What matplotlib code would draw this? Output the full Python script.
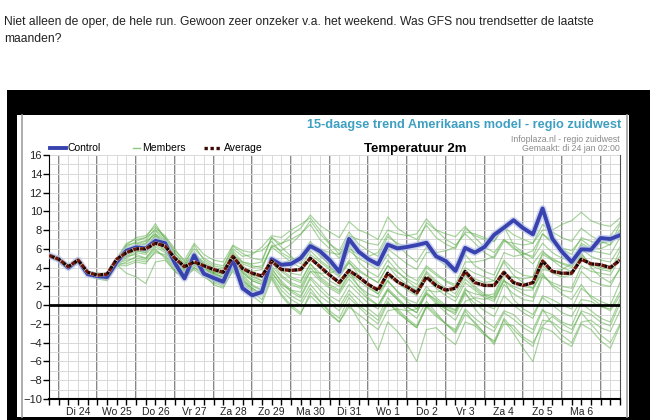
import numpy as np
import matplotlib
matplotlib.use("Agg")
import matplotlib.pyplot as plt
from matplotlib.patches import Rectangle
from matplotlib.lines import Line2D

# === DONNEES (pas de 6 h, 60 pas) ===
steps = np.arange(60) * 0.25          # jours depuis le debut de l'axe
day_lines = np.arange(15) + 0.25      # 00h de chaque jour
day_labels = ["Di 24", "Wo 25", "Do 26", "Vr 27", "Za 28", "Zo 29", "Ma 30",
              "Di 31", "Wo 1", "Do 2", "Vr 3", "Za 4", "Zo 5", "Ma 6"]

control = [5.3, 4.9, 4.0, 4.8, 3.3, 3.1, 3.0, 4.6, 5.8, 6.15, 6.05, 6.85,
           6.6, 4.5, 2.85, 5.3, 3.35, 2.9, 2.5, 4.85, 1.8, 1.05, 1.4, 4.9,
           4.3, 4.4, 5.0, 6.3, 5.75, 4.8, 3.55, 7.05, 5.7, 4.9, 4.35, 6.45,
           6.05, 6.2, 6.4, 6.65, 5.2, 4.7, 3.65, 6.1, 5.6, 6.2, 7.5, 8.25,
           9.05, 8.2, 7.55, 10.3, 7.1, 5.7, 4.6, 5.95, 5.9, 7.15, 7.05, 7.45]

average = [5.3, 4.9, 4.1, 4.8, 3.5, 3.2, 3.3, 4.9, 5.6, 6.0, 6.0, 6.6,
           6.3, 5.0, 4.1, 4.6, 4.2, 3.8, 3.5, 5.2, 3.9, 3.4, 3.1, 4.7,
           3.8, 3.7, 3.8, 5.0, 4.1, 3.2, 2.4, 3.7, 3.0, 2.2, 1.6, 3.4,
           2.5, 1.95, 1.3, 3.0, 2.1, 1.6, 1.8, 3.6, 2.4, 2.1, 2.1, 3.5,
           2.4, 2.1, 2.4, 4.7, 3.6, 3.4, 3.4, 4.9, 4.4, 4.3, 4.0, 4.8]

members = [
    [5.4, 5.0, 4.2, 4.9, 3.5, 3.2, 3.1, 4.8, 6.2, 6.8, 7.2, 8.7, 7.0, 5.5, 4.3, 6.4,
     4.8, 4.2, 4.0, 6.3, 5.5, 5.0, 4.8, 7.2, 6.5, 7.5, 8.2, 9.6, 8.5, 7.8, 7.2, 8.9,
     8.0, 7.6, 7.0, 9.4, 8.2, 7.5, 7.0, 8.5, 7.2, 6.5, 6.0, 8.2, 7.4, 7.0, 6.8, 8.3,
     7.5, 7.0, 6.6, 8.0, 8.0, 8.6, 9.0, 9.9, 9.0, 8.6, 8.4, 9.3],
    [5.2, 4.8, 3.9, 4.7, 3.4, 3.0, 2.9, 4.5, 5.5, 6.3, 6.5, 7.9, 6.9, 5.2, 4.0, 5.7,
     4.2, 3.5, 3.3, 5.6, 4.0, 3.6, 3.8, 6.4, 5.8, 6.5, 7.5, 9.0, 7.6, 6.5, 5.8, 7.8,
     6.5, 5.8, 5.2, 7.3, 6.6, 6.2, 6.5, 8.8, 8.0, 7.6, 7.3, 8.4, 7.2, 6.2, 5.6, 7.0,
     6.0, 5.5, 5.2, 7.6, 6.8, 6.1, 5.8, 7.0, 6.2, 6.0, 6.5, 8.6],
    [5.3, 4.9, 4.1, 4.9, 3.6, 3.3, 3.2, 4.7, 5.8, 6.0, 5.9, 7.0, 6.3, 4.8, 3.9, 4.6,
     4.0, 3.6, 3.4, 5.2, 4.2, 3.5, 3.0, 5.0, 4.0, 3.4, 3.2, 5.4, 4.6, 3.8, 3.0, 4.5,
     3.6, 3.0, 2.4, 4.2, 3.5, 2.8, 2.2, 4.0, 3.2, 2.5, 2.0, 3.6, 2.8, 2.4, 2.6, 4.8,
     3.8, 3.2, 3.0, 5.4, 4.8, 4.5, 4.2, 6.0, 5.2, 4.8, 4.6, 6.2],
    [5.4, 4.9, 4.0, 4.8, 3.3, 3.0, 2.8, 4.4, 5.0, 5.6, 5.4, 6.6, 6.0, 4.6, 3.6, 4.4,
     3.8, 3.2, 2.9, 4.6, 3.5, 2.6, 2.2, 4.6, 3.2, 2.4, 2.0, 4.0, 2.8, 2.0, 1.4, 3.2,
     2.0, 1.2, 0.8, 2.6, 1.5, 0.6, 0.2, 2.0, 0.8, 0.0, -0.5, 1.8, 0.6, 0.0, -0.4, 2.2,
     1.2, 0.6, 0.4, 3.0, 2.4, 2.0, 1.8, 4.2, 3.6, 3.4, 3.2, 5.0],
    [5.2, 4.8, 3.8, 4.6, 3.2, 2.9, 2.7, 4.2, 4.6, 5.2, 5.0, 6.4, 5.8, 4.2, 3.2, 4.0,
     3.4, 2.8, 2.4, 4.0, 2.8, 1.8, 1.2, 3.6, 2.0, 1.0, 0.4, 2.2, 1.0, 0.2, -0.6, 1.2,
     0.0, -0.8, -1.6, 0.4, -0.8, -1.6, -2.4, -0.2, -1.2, -2.0, -2.6, -0.4, -1.4, -2.2, -2.8, -0.8,
     -1.5, -2.4, -3.0, -0.6, -1.0, -1.8, -2.2, 0.2, -0.6, -1.4, -1.8, 0.6],
    [5.3, 4.8, 3.9, 4.8, 3.4, 3.1, 2.9, 4.4, 4.4, 4.8, 4.6, 5.6, 5.4, 4.0, 3.0, 3.8,
     3.0, 2.4, 2.0, 3.6, 2.4, 1.4, 0.6, 3.0, 1.2, 0.0, -0.8, 1.0, 0.0, -1.0, -1.8, 0.2,
     -1.6, -3.0, -4.8, -1.8, -2.8, -4.2, -6.0, -2.6, -2.4, -3.4, -4.2, -1.8, -2.2, -3.2, -3.8, -1.6,
     -3.0, -4.6, -6.0, -2.4, -2.8, -3.8, -4.4, -2.0, -2.6, -3.8, -4.6, -2.2],
    [5.1, 4.7, 3.8, 4.6, 3.2, 2.8, 2.6, 4.2, 4.2, 4.6, 4.4, 5.8, 5.2, 3.8, 3.0, 4.2,
     3.6, 2.6, 2.2, 4.2, 3.0, 2.0, 1.6, 4.0, 2.4, 1.4, 0.8, 2.8, 1.6, 0.6, -0.2, 1.6,
     0.6, -0.4, -1.2, 0.8, -0.4, -1.4, -2.2, 0.0, -1.0, -2.0, -2.8, -0.6, -2.0, -3.0, -4.2, -1.4,
     -2.6, -3.6, -4.4, -1.6, -1.8, -2.6, -3.0, -0.6, -1.0, -1.8, -2.2, 0.2],
    [5.4, 5.0, 4.2, 5.0, 3.6, 3.4, 3.4, 5.0, 6.6, 7.0, 7.2, 8.0, 7.2, 5.6, 4.4, 5.4,
     4.6, 4.0, 3.8, 5.8, 4.6, 4.4, 4.6, 7.2, 6.2, 5.2, 4.4, 6.4, 5.2, 4.4, 3.8, 6.0,
     5.4, 5.2, 5.6, 7.6, 6.4, 5.4, 4.6, 6.2, 5.0, 4.2, 3.6, 5.4, 4.2, 3.6, 3.2, 5.6,
     5.2, 5.4, 5.8, 7.6, 6.6, 6.0, 5.4, 7.2, 6.8, 6.6, 6.8, 8.0],
    [5.3, 4.9, 4.0, 4.7, 3.3, 3.1, 3.0, 4.6, 5.2, 5.4, 5.0, 6.2, 5.6, 4.4, 3.4, 4.8,
     4.0, 3.2, 2.8, 4.4, 3.2, 2.2, 1.6, 3.8, 2.6, 1.6, 1.0, 3.0, 2.0, 1.0, 0.4, 2.2,
     1.2, 0.2, -0.4, 1.6, 0.6, -0.2, -0.8, 1.4, 0.4, -0.4, -1.0, 1.2, 0.2, -0.6, -1.2, 1.0,
     0.0, -0.8, -1.4, 1.0, 0.6, 0.0, -0.4, 1.8, 1.0, 0.4, 0.0, 2.4],
    [5.2, 4.8, 3.9, 4.8, 3.2, 2.9, 2.8, 4.4, 4.8, 5.0, 4.8, 6.0, 5.0, 3.6, 2.8, 4.0,
     3.2, 2.2, 1.8, 3.8, 2.2, 1.0, 0.2, 2.8, 1.0, -0.2, -1.0, 1.4, 0.4, -0.6, -1.4, 0.8,
     -0.2, -1.2, -2.0, 0.2, -0.6, -1.6, -2.4, -0.2, 0.2, -0.4, -0.8, 1.6, 1.2, 1.0, 1.2, 3.4,
     2.6, 2.0, 1.8, 4.2, 3.4, 3.0, 3.2, 5.2, 4.2, 3.8, 3.6, 5.8],
    [5.3, 4.9, 4.1, 4.9, 3.4, 3.2, 3.1, 4.8, 6.0, 6.4, 6.6, 7.6, 6.8, 5.2, 4.2, 5.6,
     4.4, 3.8, 3.6, 5.4, 4.4, 4.0, 4.2, 6.2, 6.6, 7.0, 7.6, 8.6, 7.0, 6.0, 5.0, 6.6,
     5.6, 4.8, 4.2, 6.0, 5.2, 4.4, 3.8, 5.6, 5.6, 5.8, 6.2, 7.8, 7.6, 7.2, 6.8, 8.4,
     6.4, 5.6, 5.0, 6.6, 5.6, 5.0, 4.8, 6.4, 5.8, 5.6, 5.4, 7.2],
    [5.4, 5.0, 4.1, 4.8, 3.5, 3.3, 3.1, 4.6, 5.4, 5.8, 5.6, 6.8, 6.2, 4.6, 3.6, 5.0,
     4.0, 3.4, 3.0, 5.0, 3.8, 3.0, 2.6, 4.6, 3.6, 2.8, 2.4, 4.4, 3.0, 2.2, 1.6, 3.4,
     2.6, 1.8, 1.2, 3.0, 2.4, 1.6, 1.0, 2.8, 1.8, 1.0, 0.4, 2.4, 1.6, 0.8, 0.4, 2.6,
     1.8, 1.2, 0.8, 3.2, 2.2, 1.6, 1.4, 3.6, 2.6, 2.2, 2.0, 4.0],
    [5.2, 4.8, 4.0, 4.7, 3.3, 3.0, 2.8, 4.3, 3.4, 3.0, 2.3, 4.6, 4.8, 3.6, 2.8, 4.4,
     3.4, 2.6, 2.2, 4.0, 2.6, 1.6, 1.2, 3.4, 2.2, 1.6, 1.4, 3.6, 3.4, 3.4, 3.8, 5.8,
     5.0, 4.4, 3.8, 5.4, 4.2, 3.2, 2.6, 4.2, 3.4, 2.6, 2.2, 4.6, 4.6, 4.8, 5.2, 7.0,
     6.2, 5.2, 4.4, 5.8, 4.8, 4.0, 3.6, 5.4, 4.4, 4.0, 3.8, 5.2],
    [5.4, 5.0, 4.2, 5.0, 3.6, 3.4, 3.3, 4.9, 6.4, 6.6, 6.9, 8.2, 7.4, 6.0, 4.6, 6.0,
     5.0, 4.4, 4.2, 6.0, 5.2, 5.4, 6.2, 7.4, 7.2, 8.0, 8.6, 9.3, 8.0, 6.6, 5.4, 6.4,
     4.6, 3.6, 3.0, 4.8, 3.6, 2.6, 1.8, 3.4, 2.4, 1.4, 0.8, 2.8, 1.8, 1.0, 0.6, 2.6,
     2.0, 1.6, 1.6, 3.8, 3.6, 3.8, 4.4, 6.6, 6.0, 6.6, 7.4, 8.8],
    [5.3, 4.9, 4.0, 4.8, 3.4, 3.1, 2.9, 4.5, 5.6, 5.8, 5.8, 7.2, 6.2, 4.8, 3.8, 5.0,
     4.2, 3.6, 3.2, 5.2, 4.0, 3.2, 2.6, 4.6, 3.8, 3.0, 2.6, 4.4, 3.4, 2.6, 2.0, 3.6,
     2.0, 0.8, 0.0, 1.6, 0.6, -0.6, -1.4, 0.4, -0.8, -2.0, -3.0, -1.0, -1.8, -3.0, -4.0, -2.0,
     -2.2, -3.4, -4.0, -2.2, -1.2, -2.0, -2.6, -0.8, -2.0, -3.2, -4.0, -2.0],
    [5.2, 4.8, 4.0, 4.9, 3.5, 3.2, 3.0, 4.6, 6.0, 6.2, 6.2, 7.4, 6.6, 5.0, 3.8, 5.2,
     4.4, 3.8, 3.4, 5.4, 4.6, 4.2, 4.0, 6.2, 5.4, 4.6, 4.0, 5.8, 4.8, 4.0, 3.2, 4.8,
     3.8, 3.0, 2.4, 4.2, 3.0, 2.2, 1.6, 3.6, 2.6, 1.8, 1.2, 3.2, 2.0, 1.2, 0.8, 2.8,
     0.6, -0.4, -1.0, 0.8, 0.0, -0.8, -1.2, 0.6, 0.4, -0.2, -0.4, 1.4],
    [5.3, 4.8, 4.0, 4.9, 3.4, 3.2, 3.0, 4.7, 5.7, 6.5, 6.8, 7.6, 6.5, 5.0, 4.0, 5.4,
     4.2, 3.4, 3.0, 4.8, 3.6, 2.8, 2.4, 4.4, 4.4, 4.8, 5.2, 6.8, 5.4, 4.2, 3.2, 4.6,
     3.2, 2.0, 1.2, 2.6, 1.4, 0.4, -0.4, 1.2, 0.2, -0.8, -1.6, 0.4, 0.8, 0.6, 1.0, 3.2,
     3.0, 2.8, 3.0, 5.6, 5.0, 4.4, 4.0, 5.6, 4.0, 3.0, 2.4, 3.8],
    [5.2, 4.9, 4.0, 4.8, 3.3, 3.0, 2.9, 4.5, 5.2, 5.8, 5.6, 6.8, 5.8, 4.4, 3.4, 4.6,
     3.6, 3.0, 2.6, 4.4, 2.6, 1.8, 1.2, 3.2, 1.6, 0.6, 0.0, 1.8, 0.4, -0.8, -1.8, -0.2,
     -1.0, -1.8, -2.6, -0.6, -0.4, -0.6, -0.4, 1.6, 1.4, 1.6, 2.0, 4.0, 3.4, 3.0, 2.6, 4.6,
     3.2, 2.4, 1.8, 3.4, 2.0, 1.2, 0.6, 2.2, 0.8, 0.0, -0.6, 1.0],
    [5.4, 5.0, 4.1, 4.9, 3.5, 3.3, 3.2, 4.8, 6.4, 7.2, 7.4, 8.4, 7.2, 5.8, 4.8, 6.6,
     5.4, 4.8, 4.6, 6.4, 5.8, 5.6, 5.8, 6.8, 5.6, 5.0, 4.8, 6.6, 6.0, 5.6, 5.4, 7.4,
     7.0, 6.6, 6.4, 8.0, 7.6, 7.4, 7.6, 9.2, 8.0, 7.0, 6.4, 7.6, 6.6, 5.6, 5.0, 6.8,
     6.6, 6.4, 6.6, 8.6, 7.8, 7.2, 6.8, 8.2, 7.4, 6.8, 6.4, 7.8],
    [5.3, 4.9, 4.0, 4.8, 3.4, 3.1, 3.0, 4.6, 5.4, 6.0, 6.2, 7.4, 6.4, 4.9, 3.8, 4.8,
     3.9, 3.3, 3.0, 4.8, 3.4, 2.6, 2.2, 4.2, 3.0, 2.2, 1.8, 3.6, 2.6, 1.8, 1.2, 2.8,
     1.6, 0.6, 0.0, 1.8, 0.8, -0.2, -0.8, 1.2, 0.6, -0.2, -0.6, 1.4, -0.4, -1.6, -2.4, -0.6,
     -1.0, -2.0, -2.6, -0.4, -2.0, -3.2, -4.0, -1.8, -1.6, -2.4, -2.8, -0.6],
]

W, H = 650, 420
fig = plt.figure(figsize=(W / 100, H / 100), dpi=100)
fig.patch.set_facecolor("white")

def fx(px):
    return px / W

def fy(py):
    return 1 - py / H

# === TEXTE DU FORUM ===
forum_font = ["Liberation Sans", "DejaVu Sans"]
fig.text(fx(4), fy(22), "Niet alleen de oper, de hele run. Gewoon zeer onzeker v.a. het weekend. "
         "Was GFS nou trendsetter de laatste", fontsize=8.7, family=forum_font,
         color="#222222", va="center", ha="left")
fig.text(fx(4), fy(39), "maanden?", fontsize=8.7, family=forum_font,
         color="#222222", va="center", ha="left")

# === CADRE NOIR + PANNEAU BLANC ===
fig.patches.append(Rectangle((fx(7), 0), fx(W - 7), 1 - 90 / H, transform=fig.transFigure,
                             facecolor="black", edgecolor="none", zorder=0))
fig.patches.append(Rectangle((fx(17), fy(417)), fx(629 - 17), (417 - 115) / H,
                             transform=fig.transFigure, facecolor="white",
                             edgecolor="none", zorder=0.5))
for xp in (22, 627):
    fig.add_artist(Line2D([fx(xp), fx(xp)], [fy(417), fy(115)], transform=fig.transFigure,
                          color="#a0a0a0", lw=1.2, zorder=1))

# === GRAPHIQUE ===
ax = fig.add_axes([fx(49), fy(399), fx(620 - 49), (399 - 155) / H])
ax.set_zorder(2)
ax.set_facecolor("white")
ax.set_xlim(0, 14.75)
ax.set_ylim(-10, 16)

ax.set_yticks(np.arange(-10, 17, 2))
ax.set_yticks(np.arange(-10, 17, 1), minor=True)
ax.set_xticks(steps)
ax.set_xticklabels([])
ax.grid(True, which="both", axis="y", color="#d9d9d9", lw=0.7, zorder=0)
ax.grid(True, which="major", axis="x", color="#d9d9d9", lw=0.7, zorder=0)
for d in day_lines:
    ax.axvline(d, color="#707070", lw=1.2, zorder=1)
ax.axhline(0, color="black", lw=2, zorder=5)

for i, lab in enumerate(day_labels):
    ax.text(day_lines[i] + 0.5, -10.9, lab, ha="center", va="top", fontsize=7.5,
            family=forum_font, color="#222222")

ax.tick_params(axis="y", which="major", length=4, width=1, labelsize=8, pad=1,
               labelcolor="#222222")
ax.tick_params(axis="y", which="minor", length=0)
ax.tick_params(axis="x", which="major", length=4, width=1, direction="out")
for lab in ax.get_yticklabels():
    lab.set_family(forum_font)

for s in ("left", "bottom"):
    ax.spines[s].set_color("black")
ax.spines["bottom"].set_linewidth(1.5)
ax.spines["right"].set_color("#555555")
ax.spines["top"].set_visible(False)

for m in members:
    ax.plot(steps, m, color="#5fb04c", lw=0.85, alpha=0.55, zorder=2)
ax.plot(steps, control, color="#b9c3ea", lw=5, alpha=0.7, zorder=3,
        solid_joinstyle="round")
ax.plot(steps, control, color="#3943b0", lw=2.8, zorder=4, solid_joinstyle="round")
ax.plot(steps, average, color="#f4e4dc", lw=2.6, zorder=6)
ax.plot(steps, average, color="#6a1408", lw=2.4, ls=(0, (1.1, 0.9)), zorder=7)
ax.plot(steps, average, color="#150505", lw=2.4, ls=(1.0, (0.8, 1.2)), zorder=7)

# === TITRES ===
fig.text(fx(621), fy(125), "15-daagse trend Amerikaans model - regio zuidwest",
         ha="right", va="center", fontsize=9.2, fontweight="bold",
         color="#3e9fc0", family=forum_font)
fig.text(fx(620), fy(139.5), "Infoplaza.nl - regio zuidwest", ha="right", va="center",
         fontsize=6.3, color="#8a8a8a", family=forum_font)
fig.text(fx(620), fy(148), "Gemaakt: di 24 jan 02:00", ha="right", va="center",
         fontsize=6.3, color="#8a8a8a", family=forum_font)
fig.text(fx(415), fy(149), "Temperatuur 2m", ha="center", va="center",
         fontsize=9.5, fontweight="bold", color="black", family=forum_font)

# === LEGENDE ===
fig.add_artist(Line2D([fx(50), fx(66)], [fy(148), fy(148)], transform=fig.transFigure,
                      color="#3943b0", lw=2.8))
fig.text(fx(68), fy(148), "Control", va="center", fontsize=7.5, family=forum_font)
fig.add_artist(Line2D([fx(133), fx(140)], [fy(148), fy(148)], transform=fig.transFigure,
                      color="#8cc97c", lw=1))
fig.text(fx(142), fy(148), "Members", va="center", fontsize=7.5, family=forum_font)
fig.add_artist(Line2D([fx(204), fx(220)], [fy(148), fy(148)], transform=fig.transFigure,
                      color="#3a0a05", lw=2.4, ls=(0, (1, 0.8))))
fig.text(fx(224), fy(148), "Average", va="center", fontsize=7.5, family=forum_font)

fig.savefig("out.png", dpi=100)
